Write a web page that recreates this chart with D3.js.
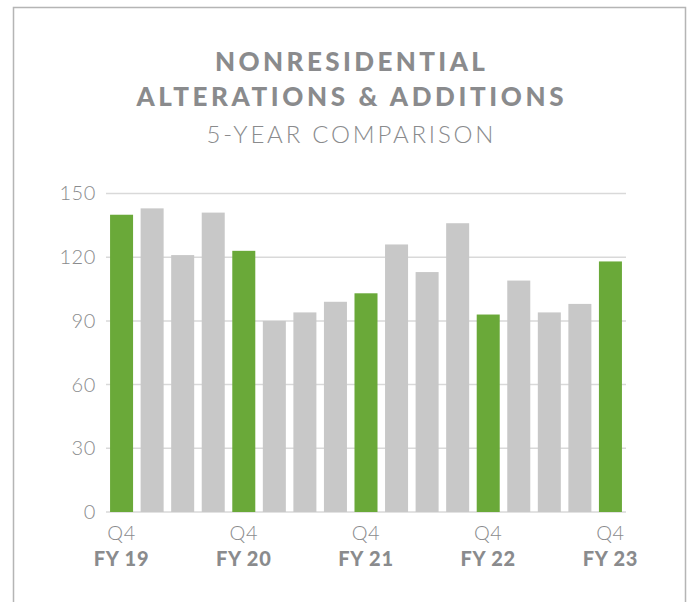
<!DOCTYPE html>
<html>
<head>
<meta charset="utf-8">
<script src="https://cdn.jsdelivr.net/npm/d3@7"></script>
<style>
  html, body { margin: 0; padding: 0; background: #fff; }
  svg { display: block; }
  text { font-family: "Lato", "Noto Sans", sans-serif; fill: #8a8b8d; }
</style>
</head>
<body>
<script>
// ---- data ----
const periods = ["FY19 Q4","FY20 Q1","FY20 Q2","FY20 Q3","FY20 Q4","FY21 Q1","FY21 Q2","FY21 Q3","FY21 Q4",
                 "FY22 Q1","FY22 Q2","FY22 Q3","FY22 Q4","FY23 Q1","FY23 Q2","FY23 Q3","FY23 Q4"];
const values = [140, 143, 121, 141, 123, 90, 94, 99, 103, 126, 113, 136, 93, 109, 94, 98, 118];
const highlighted = ["FY19 Q4","FY20 Q4","FY21 Q4","FY22 Q4","FY23 Q4"];
const quarterLabels = ["Q4","Q4","Q4","Q4","Q4"];
const yearLabels = ["FY 19","FY 20","FY 21","FY 22","FY 23"];
const yTicks = [0, 30, 60, 90, 120, 150];
const titleLines = ["NONRESIDENTIAL", "ALTERATIONS & ADDITIONS"];
const subtitle = "5-YEAR COMPARISON";

// ---- layout ----
const W = 688, H = 602;
const svg = d3.select("body").append("svg").attr("width", W).attr("height", H);

// frame
svg.append("path")
  .attr("d", `M13.5,${H+2} L13.5,7.5 L685.5,7.5 L685.5,${H+2}`)
  .attr("fill", "none").attr("stroke", "#b5b5b5").attr("stroke-width", 1.5);

// titles
const cx = 350;
svg.append("text").attr("x", cx + 1.7).attr("y", 71).attr("text-anchor", "middle")
  .style("font-size", "26px").style("font-weight", 900).style("letter-spacing", "3.4px")
  .text(titleLines[0]);
svg.append("text").attr("x", cx + 1.8).attr("y", 106).attr("text-anchor", "middle")
  .style("font-size", "26px").style("font-weight", 900).style("letter-spacing", "3.6px")
  .text(titleLines[1]);
svg.append("text").attr("x", cx + 1.4).attr("y", 143).attr("text-anchor", "middle")
  .style("font-size", "24px").style("font-weight", 300).style("letter-spacing", "2.8px")
  .text(subtitle);

// scales
const x0 = 106, x1 = 626, yTop = 193.5, yBot = 512;
const x = d3.scaleBand().domain(periods).range([x0, x1]).paddingInner(0.247).paddingOuter(0.133);
const y = d3.scaleLinear().domain([0, 150]).range([yBot, yTop]);

// gridlines
svg.append("g").selectAll("line").data(yTicks).join("line")
  .attr("x1", x0).attr("x2", x1)
  .attr("y1", d => y(d)).attr("y2", d => y(d))
  .attr("stroke", "#d9d9d9").attr("stroke-width", 1.5);

// y labels via axis
const yAxis = svg.append("g").attr("transform", `translate(${x0},0)`)
  .call(d3.axisLeft(y).tickValues(yTicks).tickSize(0).tickPadding(10));
yAxis.select(".domain").remove();
yAxis.selectAll("text").style("font-size", "20px").style("font-weight", 300)
  .style("letter-spacing", "0.6px")
  .style("font-family", "Lato, 'Noto Sans', sans-serif").attr("fill", "#8a8b8d");

// bars
const data = periods.map((p, i) => ({ p, v: values[i] }));
svg.append("g").selectAll("rect").data(data).join("rect")
  .attr("x", d => x(d.p)).attr("width", x.bandwidth())
  .attr("y", d => y(d.v)).attr("height", d => y(0) - y(d.v))
  .attr("fill", d => highlighted.includes(d.p) ? "#6aa939" : "#c8c8c8");

// x labels
const lab = svg.append("g");
highlighted.forEach((p, i) => {
  const c = x(p) + x.bandwidth() / 2;
  lab.append("text").attr("x", c).attr("y", 540).attr("text-anchor", "middle")
    .style("font-size", "20px").style("font-weight", 300).style("letter-spacing", "0.5px").text(quarterLabels[i]);
  lab.append("text").attr("x", c).attr("y", 566).attr("text-anchor", "middle")
    .style("font-size", "20px").style("font-weight", 900).style("letter-spacing", "0.8px").text(yearLabels[i]);
});
</script>
</body>
</html>
